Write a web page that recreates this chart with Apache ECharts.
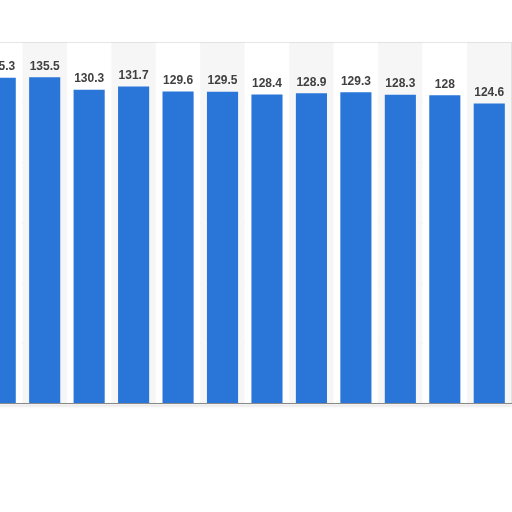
<!DOCTYPE html>
<html>
<head>
<meta charset="utf-8">
<script src="https://cdn.jsdelivr.net/npm/echarts@6/dist/echarts.min.js"></script>
<style>
html,body{margin:0;padding:0;background:#fff;overflow:hidden;width:512px;height:512px;}
#chart{width:534px;height:512px;margin-left:-22px;}
</style>
</head>
<body>
<div id="chart"></div>
<script>
// Categories (axis labels are cropped out of the reference view)
const categories = ['1','2','3','4','5','6','7','8','9','10','11','12'];
// Bar values
const values = [135.3, 135.5, 130.3, 131.7, 129.6, 129.5, 128.4, 128.9, 129.3, 128.3, 128, 124.6];
// Value axis range and ticks
const yMin = 0;
const yMax = 150;
const yInterval = 25;

const chart = echarts.init(document.getElementById('chart'), null, {renderer: 'canvas'});
chart.setOption({
  animation: false,
  backgroundColor: '#ffffff',
  grid: {
    left: 0,
    right: 0.5,
    top: 42.5,
    bottom: 109,
    show: true,
    borderColor: '#cfcfcf',
    borderWidth: 1,
    backgroundColor: 'transparent'
  },
  xAxis: {
    type: 'category',
    data: categories,
    boundaryGap: true,
    axisTick: {show: false},
    axisLabel: {show: false},
    axisLine: {
      show: true,
      lineStyle: {color: '#8a8a8a', width: 1.2, shadowColor: 'rgba(0,0,0,0.25)', shadowBlur: 3, shadowOffsetY: 2}
    },
    splitArea: {show: true, areaStyle: {color: ['#ffffff', '#f6f6f6']}},
    splitLine: {show: false}
  },
  yAxis: {
    type: 'value',
    min: yMin,
    max: yMax,
    interval: yInterval,
    axisLabel: {show: false},
    axisLine: {show: false},
    axisTick: {show: false},
    splitLine: {show: true, lineStyle: {color: '#cccccc', type: 'dotted', width: 1}}
  },
  series: [{
    type: 'bar',
    data: values,
    barWidth: '70%',
    itemStyle: {color: '#2a76d8'},
    label: {
      show: true,
      position: 'top',
      distance: 5,
      color: '#404040',
      fontFamily: 'Liberation Sans, Arial, sans-serif',
      fontWeight: 'bold',
      fontSize: 12
    }
  }]
});
</script>
</body>
</html>
